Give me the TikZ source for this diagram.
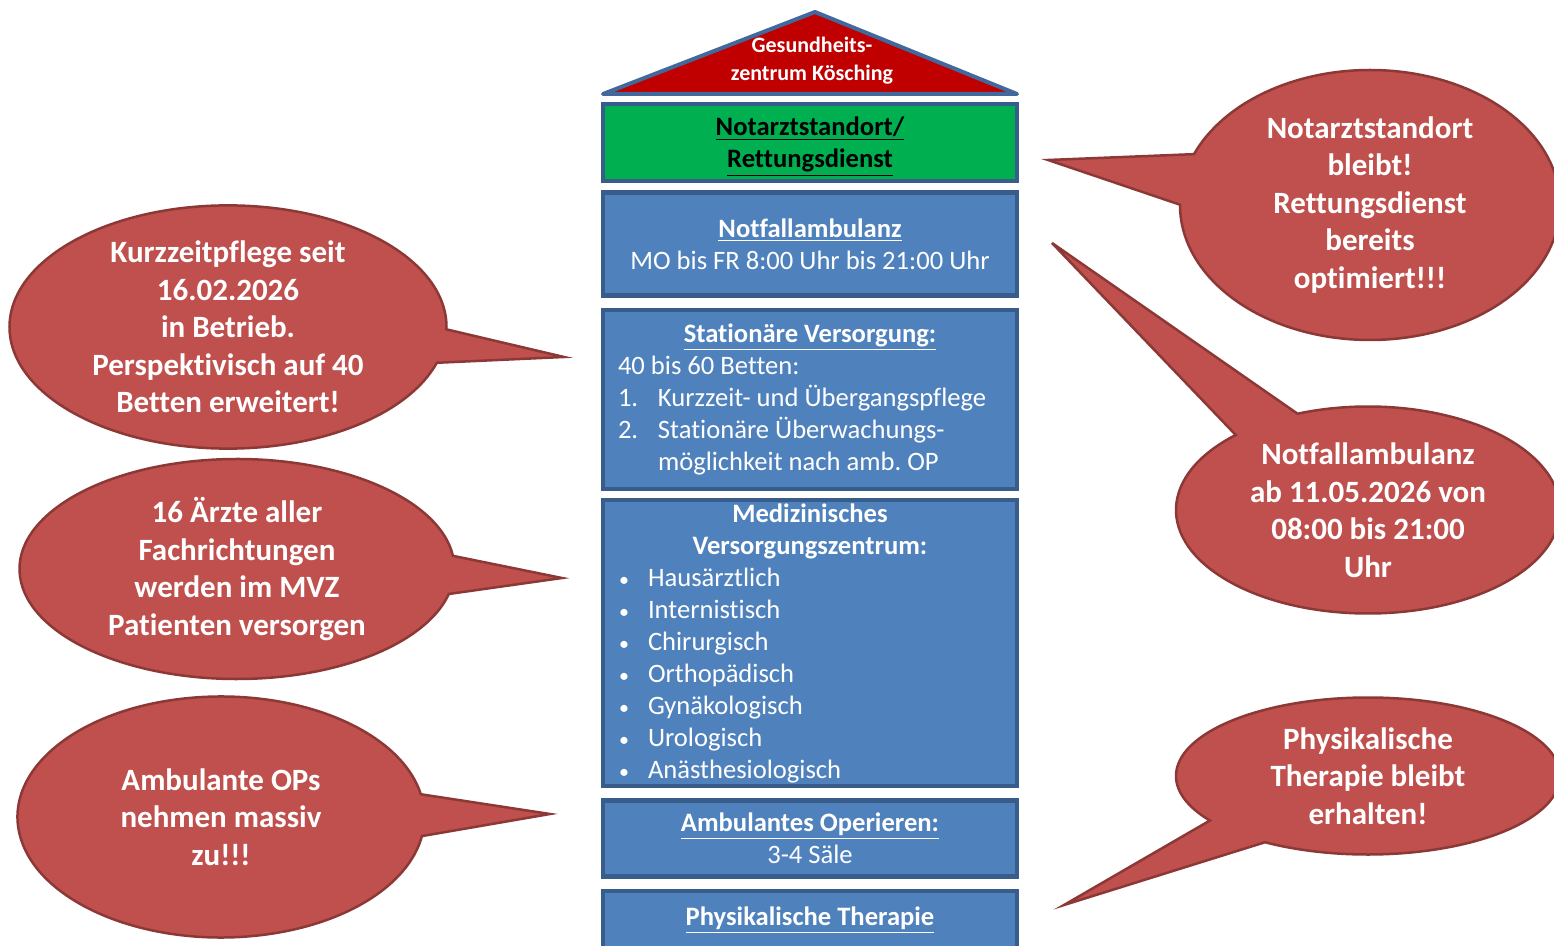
\documentclass[tikz,border=0pt]{standalone}
\usepackage{fontspec}
\setmainfont{Carlito}[Ligatures=NoCommon]
\usepackage{tikz}
\usetikzlibrary{shapes.geometric, shapes.callouts, positioning}
\setlength{\parindent}{0pt}
\frenchspacing
\definecolor{boxblue}{HTML}{4F81BD}
\definecolor{boxedge}{HTML}{385D8A}
\definecolor{roofred}{HTML}{C00000}
\definecolor{roofedge}{HTML}{41699C}
\definecolor{greenbox}{HTML}{00B050}
\definecolor{bubblered}{HTML}{C0504D}
\definecolor{bubbleedge}{HTML}{8C3836}
\tikzstyle{bubble} = [ellipse callout, fill=bubblered, draw=bubbleedge, line width=1.25pt, text=white, align=center, inner sep=0pt, callout pointer arc=20, font=\fontsize{15.5}{18.75}\selectfont\bfseries]

\begin{document}
\begin{tikzpicture}[x=0.5pt, y=-0.5pt,
        block/.style={draw=boxedge, fill=boxblue, line width=2.2pt, minimum width=207pt, text width=192pt, inner xsep=7.5pt, inner ysep=0pt, align=flush center, text=white, font=\fontsize{13.3}{16}\selectfont},
        roof/.style={draw=roofedge, fill=roofred, line width=2pt, line join=round}
      ]
        \useasboundingbox (0,0) rectangle (1554,946);
        \clip (0,0) rectangle (1554,946);

        % House Section
        \draw [roof] (603,94) -- (815,12) -- (1017,94) -- cycle;
        \node (house) [text=white, align=center, font=\fontsize{11}{14}\selectfont\bfseries] at (812,61) {Gesundheits-\\zentrum Kösching};

        \node (notarzt) [block, fill=greenbox, text=black, minimum height=38.5pt] at (810,142.5) {\textbf{\underline{Notarztstandort/}}\\\raisebox{0pt}[\height][0pt]{\textbf{\underline{Rettungsdienst}}}\par};
        \node (notfall) [block, minimum height=51.5pt, below=3.5pt of notarzt] {\textbf{\underline{Notfallambulanz}}\\MO bis FR 8:00 Uhr bis 21:00 Uhr\par};
        \node (station) [block, minimum height=89.5pt, below=5pt of notfall] {\textbf{\underline{Stationäre Versorgung:}}\par
          \raggedright 40 bis 60 Betten:\par
          \makebox[20pt][l]{1.}Kurzzeit- und Übergangspflege\par
          \makebox[20pt][l]{2.}Stationäre Überwachungs-\par
          \hspace*{20pt}möglichkeit nach amb. OP\par};
        \node (mvz) [block, minimum height=143pt, below=3.5pt of station] {\textbf{Medizinisches}\\\textbf{Versorgungszentrum:}\par
          \raggedright
          \makebox[15pt][l]{\hspace{0.5pt}{\fontsize{10}{10}\selectfont\textbullet}}Hausärztlich\par
          \makebox[15pt][l]{\hspace{0.5pt}{\fontsize{10}{10}\selectfont\textbullet}}Internistisch\par
          \makebox[15pt][l]{\hspace{0.5pt}{\fontsize{10}{10}\selectfont\textbullet}}Chirurgisch\par
          \makebox[15pt][l]{\hspace{0.5pt}{\fontsize{10}{10}\selectfont\textbullet}}Orthopädisch\par
          \makebox[15pt][l]{\hspace{0.5pt}{\fontsize{10}{10}\selectfont\textbullet}}Gynäkologisch\par
          \makebox[15pt][l]{\hspace{0.5pt}{\fontsize{10}{10}\selectfont\textbullet}}Urologisch\par
          \makebox[15pt][l]{\hspace{0.5pt}{\fontsize{10}{10}\selectfont\textbullet}}Anästhesiologisch\par};
        \node (ambulant) [block, minimum height=38pt, below=5pt of mvz] {\textbf{\underline{Ambulantes Operieren:}}\\3-4 Säle\par};
        \node (physio) [block, minimum height=29pt, below=5pt of ambulant] {\textbf{\underline{Physikalische Therapie}}\par};

        % Speech bubbles left
        \node (kurzzeit) [bubble, minimum width=218.5pt, minimum height=110pt, callout pointer arc=16, callout absolute pointer={(564,357)}] at (228,327) {Kurzzeitpflege seit\\16.02.2026\\in Betrieb.\\Perspektivisch auf 40\\Betten erweitert!};
        \node (aerzte) [bubble, minimum width=217.5pt, minimum height=110pt, callout absolute pointer={(562,578)}] at (237,569) {16 Ärzte aller\\Fachrichtungen\\werden im MVZ\\Patienten versorgen};
        \node (ops) [bubble, minimum width=203.5pt, minimum height=120.5pt, callout absolute pointer={(550,814)}] at (221,817) {Ambulante OPs\\nehmen massiv\\zu!!!};

        % Speech bubbles right
        \node (bleibt) [bubble, minimum width=190pt, minimum height=135pt, callout pointer arc=22, callout absolute pointer={(1048,160)}] at (1370,205) {Notarztstandort\\bleibt!\\Rettungsdienst\\bereits\\optimiert!!!};
        \node (ab) [bubble, minimum width=192pt, minimum height=103.5pt, callout pointer arc=22, callout absolute pointer={(1052,243)}] at (1368,510) {Notfallambulanz\\ab 11.05.2026 von\\08:00 bis 21:00\\Uhr};
        \node (therapie) [bubble, minimum width=192pt, minimum height=78.5pt, callout pointer arc=23, callout absolute pointer={(1064,905)}] at (1368,776) {Physikalische\\Therapie bleibt\\erhalten!};
      \end{tikzpicture}
\end{document}
